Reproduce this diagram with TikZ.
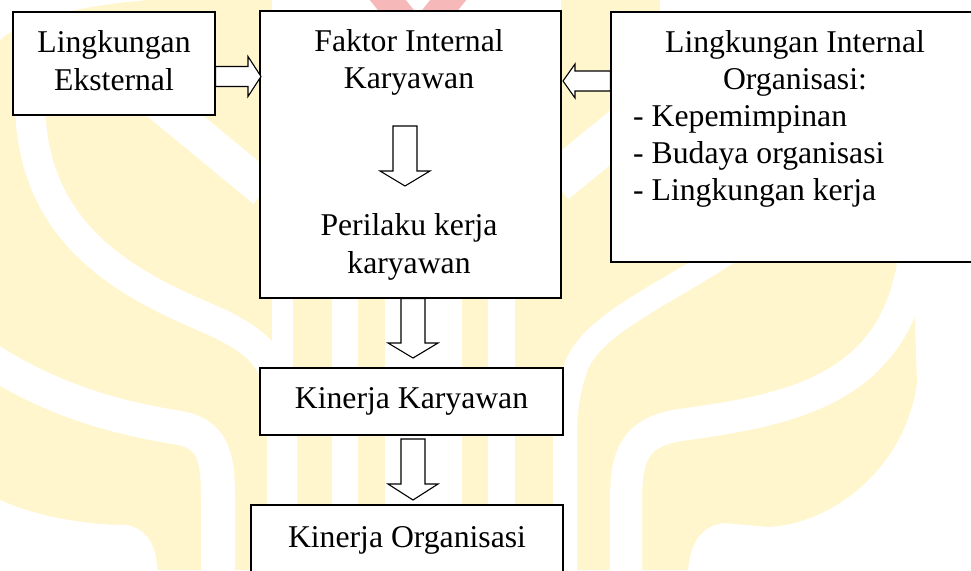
\documentclass[tikz,border=0pt]{standalone}
\usepackage{fontspec}
\setmainfont{Liberation Serif}
\usetikzlibrary{calc}
\definecolor{wmy}{HTML}{FFF6CE}
\definecolor{wmr}{HTML}{F6B8B8}
\begin{document}
\begin{tikzpicture}[x=1pt,y=-1pt,
  box/.style={draw=black, fill=white, line width=1.2pt, inner sep=0pt},
  blk/.style={draw=black, fill=white, line width=1.1pt, line join=miter},
  txt/.style={inner sep=0pt, anchor=base, font=\fontsize{31.7}{38}\selectfont},
  txl/.style={txt, anchor=base west},
  band/.style={draw=white, line width=#1},
]
\useasboundingbox (0,0) rectangle (971,570);
\begin{scope}
\clip (0,0) rectangle (971,570);
% ---- faint watermark ----
\fill[wmy] (0,0) rectangle (272,570);
\fill[white] (0,0) -- (150,0) .. controls (80,5) and (20,20) .. (0,40) -- cycle;
\fill[wmy] (293,290) rectangle (332,570);
\fill[wmy] (358,290) rectangle (385,570);
\fill[wmy] (462,290) rectangle (488,570);
\fill[wmy] (561,0) rectangle (660,263);
\fill[wmy] (515,263) -- (913,263) -- (917,383) .. controls (905,470) and (830,525) .. (767,527) -- (725,523) .. controls (700,525) and (690,545) .. (688,570) -- (515,570) -- cycle;
\draw[band=30] (30,100) .. controls (30,230) and (120,280) .. (200,315) .. controls (260,340) and (282,360) .. (282,420) -- (282,580);
\draw[band=36] (140,87) -- (265,190);
\draw[band=34] (-10,360) .. controls (60,405) and (130,420) .. (180,428) .. controls (215,435) and (218,460) .. (218,500) -- (218,580);
\fill[white] (0,500) .. controls (40,518) and (90,525) .. (127,525) .. controls (150,530) and (157,550) .. (157,570) -- (0,570) -- cycle;
\draw[band=42] (555,183) -- (690,72);
\draw[band=24] (760,230) .. controls (680,290) and (590,320) .. (575,370) .. controls (565,400) and (565,420) .. (565,450) -- (565,580);
\draw[band=32] (915,250) .. controls (900,390) and (790,410) .. (680,425) .. controls (635,432) and (626,455) .. (626,500) -- (626,580);
\draw[wmr, line width=28] (378,-12) -- (408,25);
\draw[wmr, line width=28] (458,-12) -- (428,25);
% ---- boxes ----
\node[box, minimum width=202pt, minimum height=103pt] (ext) at (114,63.5) {};
\node[box, minimum width=301pt, minimum height=287pt] (fi) at (410.5,154.5) {};
\node[box, minimum width=368pt, minimum height=250pt] (lio) at (795,137) {};
\node[box, minimum width=303pt, minimum height=67pt] (kk) at (411.5,401.5) {};
\node[box, minimum width=312pt, minimum height=75pt] (ko) at (407,542.5) {};
% ---- texts ----
\node[txt] (t1a) at (114,52) {Lingkungan};
\node[txt] (t1b) at (114,90) {Eksternal};
\node[txt] (t2a) at (409,51) {Faktor Internal};
\node[txt] (t2b) at (409,88) {Karyawan};
\node[txt] (t2c) at (409,235) {Perilaku kerja};
\node[txt] (t2d) at (409,273) {karyawan};
\node[txt] (t3a) at (795,52) {Lingkungan Internal};
\node[txt] (t3b) at (795,89) {Organisasi:};
\node[txl] (t3c) at (633,126) {- Kepemimpinan};
\node[txl] (t3d) at (633,163) {- Budaya organisasi};
\node[txl] (t3e) at (633,200) {- Lingkungan kerja};
\node[txt] (t4) at (411.5,408) {Kinerja Karyawan};
\node[txt] (t5) at (407,547) {Kinerja Organisasi};
% ---- block arrows ----
\draw[blk] (ext.east |- 0,66.5) -- (248,66.5) -- (248,56.5) -- (261,76.5) -- (248,96.5) -- (248,86.5) -- (ext.east |- 0,86.5) -- cycle;
\draw[blk] (lio.west |- 0,71) -- (575,71) -- (575,64) -- (563,81) -- (575,98) -- (575,91) -- (lio.west |- 0,91) -- cycle;
\draw[blk] (393,126) -- (417,126) -- (417,171) -- (430,171) -- (405,186) -- (380,171) -- (393,171) -- cycle;
\draw[blk] (fi.south -| 401,0) -- (fi.south -| 425,0) -- (425,343) -- (438,343) -- (413,358) -- (388,343) -- (401,343) -- cycle;
\draw[blk] (401,439) -- (425,439) -- (425,484) -- (438,484) -- (413,500) -- (388,484) -- (401,484) -- cycle;
\end{scope}
\end{tikzpicture}
\end{document}
